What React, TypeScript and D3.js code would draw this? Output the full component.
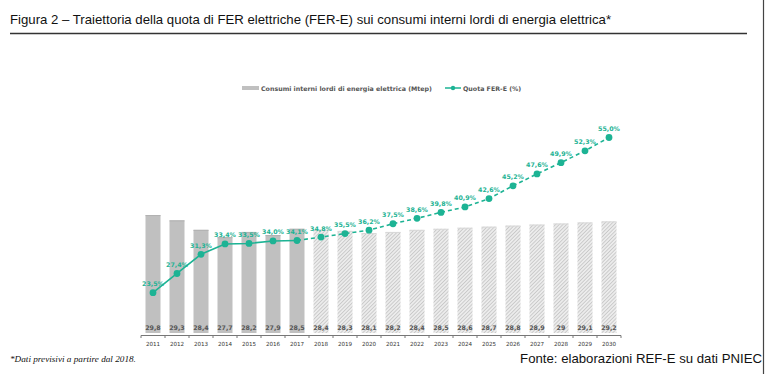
import React from 'react';
import * as d3 from 'd3';

const years = [2011, 2012, 2013, 2014, 2015, 2016, 2017, 2018, 2019, 2020, 2021, 2022, 2023, 2024, 2025, 2026, 2027, 2028, 2029, 2030];
const consumi = [29.8, 29.3, 28.4, 27.7, 28.2, 27.9, 28.5, 28.4, 28.3, 28.1, 28.2, 28.4, 28.5, 28.6, 28.7, 28.8, 28.9, 29, 29.1, 29.2];
const quota = [23.5, 27.4, 31.3, 33.4, 33.5, 34.0, 34.1, 34.8, 35.5, 36.2, 37.5, 38.6, 39.8, 40.9, 42.6, 45.2, 47.6, 49.9, 52.3, 55.0];
const firstForecastYear = 2018;

const TEAL = '#1db394';
// bar values drop the decimal when it is whole ("29"), percentages always keep one
const fmtBar = (v: number) => (Number.isInteger(v) ? String(v) : v.toFixed(1).replace('.', ','));
const fmtPct = (v: number) => v.toFixed(1).replace('.', ',') + '%';

export default function App() {
  const width = 765;
  const height = 374;

  // x band over the years
  const x = d3.scaleBand<number>()
    .domain(years)
    .range([141, 621])
    .paddingInner(0.375)
    .paddingOuter(0.1875);

  // bars: axis does not start at zero in the original
  const yBar = d3.scaleLinear().domain([18.6, 30]).range([333, 213]);
  // line: separate percent scale
  const yPct = d3.scaleLinear().domain([0, 55]).range([408.5, 137.5]);

  const cx = (yr: number) => (x(yr) ?? 0) + x.bandwidth() / 2;

  const pts = years.map((yr, i) => ({ yr, v: quota[i] }));
  const line = d3.line<{ yr: number; v: number }>()
    .x(d => cx(d.yr))
    .y(d => yPct(d.v));
  const hist = pts.filter(p => p.yr <= firstForecastYear - 1);
  const fc = pts.filter(p => p.yr >= firstForecastYear - 1);

  const labelFont = '"DejaVu Sans", sans-serif';

  return (
    <div style={{ position: 'absolute', left: 0, top: 0 }}>
      <svg width={width} height={height} style={{ display: 'block', background: '#fff' }}>
        <defs>
          <pattern id="hatch" width="2.6" height="2.6" patternUnits="userSpaceOnUse" patternTransform="rotate(45)">
            <rect width="2.6" height="2.6" fill="#ececec" />
            <line x1="0" y1="0" x2="0" y2="2.6" stroke="#b8b8b8" strokeWidth="1.2" />
          </pattern>
        </defs>

        {/* title */}
        <text x={10} y={24} fontFamily='"Liberation Sans", Arial, sans-serif' fontSize={13.2} fill="#111">
          Figura 2 – Traiettoria della quota di FER elettriche (FER-E) sui consumi interni lordi di energia elettrica*
        </text>
        <line x1={10} x2={747} y1={33.5} y2={33.5} stroke="#333" strokeWidth={1.6} />
        <line x1={763.5} x2={763.5} y1={0} y2={374} stroke="#444" strokeWidth={1.2} />

        {/* legend */}
        <rect x={242} y={86} width={17} height={4} fill="#c0c0c0" />
        <text x={261} y={90.5} fontFamily={labelFont} fontSize={6.3} fontWeight="bold" fill="#555">
          Consumi interni lordi di energia elettrica (Mtep)
        </text>
        <line x1={445} x2={461} y1={88} y2={88} stroke={TEAL} strokeWidth={1.5} />
        <circle cx={453} cy={88} r={2.2} fill={TEAL} />
        <text x={463} y={90.5} fontFamily={labelFont} fontSize={6.3} fontWeight="bold" fill="#555">
          Quota FER-E (%)
        </text>

        {/* bars */}
        {years.map((yr, i) => {
          const forecast = yr >= firstForecastYear;
          const top = yBar(consumi[i]);
          return (
            <g key={yr}>
              <rect
                x={x(yr)}
                y={top}
                width={x.bandwidth()}
                height={yBar.range()[0] - top}
                fill={forecast ? 'url(#hatch)' : '#c0c0c0'}
              />
              <line x1={x(yr)} x2={(x(yr) ?? 0) + x.bandwidth()} y1={top + 0.5} y2={top + 0.5}
                stroke={forecast ? '#d8d8d8' : '#b0b0b0'} strokeWidth={1} />
              <text x={cx(yr)} y={330} textAnchor="middle" fontFamily={labelFont} fontSize={6.3}
                fontWeight="bold" fill="#555">
                {fmtBar(consumi[i])}
              </text>
              <text x={cx(yr)} y={346} textAnchor="middle" fontFamily={labelFont} fontSize={5.6} fill="#333">
                {yr}
              </text>
            </g>
          );
        })}

        {/* axis */}
        <line x1={141} x2={621} y1={335.5} y2={335.5} stroke="#777" strokeWidth={1} />
        {d3.range(years.length + 1).map(k => {
          const tx = 141 + k * x.step();
          return <line key={k} x1={tx} x2={tx} y1={335.5} y2={338} stroke="#777" strokeWidth={1} />;
        })}

        {/* line */}
        <path d={line(hist) ?? ''} fill="none" stroke={TEAL} strokeWidth={1.6} />
        <path d={line(fc) ?? ''} fill="none" stroke={TEAL} strokeWidth={1.6} strokeDasharray="4,3" />
        {pts.map(p => (
          <g key={p.yr}>
            <circle cx={cx(p.yr)} cy={yPct(p.v)} r={3.4} fill={TEAL} />
            <text x={cx(p.yr)} y={yPct(p.v) - 6.5} textAnchor="middle" fontFamily={labelFont}
              fontSize={6.3} fontWeight="bold" fill={TEAL}>
              {fmtPct(p.v)}
            </text>
          </g>
        ))}

        {/* footer */}
        <text x={10} y={362} fontFamily='"Liberation Serif", "Times New Roman", serif' fontStyle="italic"
          fontSize={9.2} fill="#111">
          *Dati previsivi a partire dal 2018.
        </text>
        <text x={762} y={363} textAnchor="end" fontFamily='"Liberation Sans", Arial, sans-serif'
          fontSize={13.2} fill="#111">
          Fonte: elaborazioni REF-E su dati PNIEC
        </text>
      </svg>
    </div>
  );
}
